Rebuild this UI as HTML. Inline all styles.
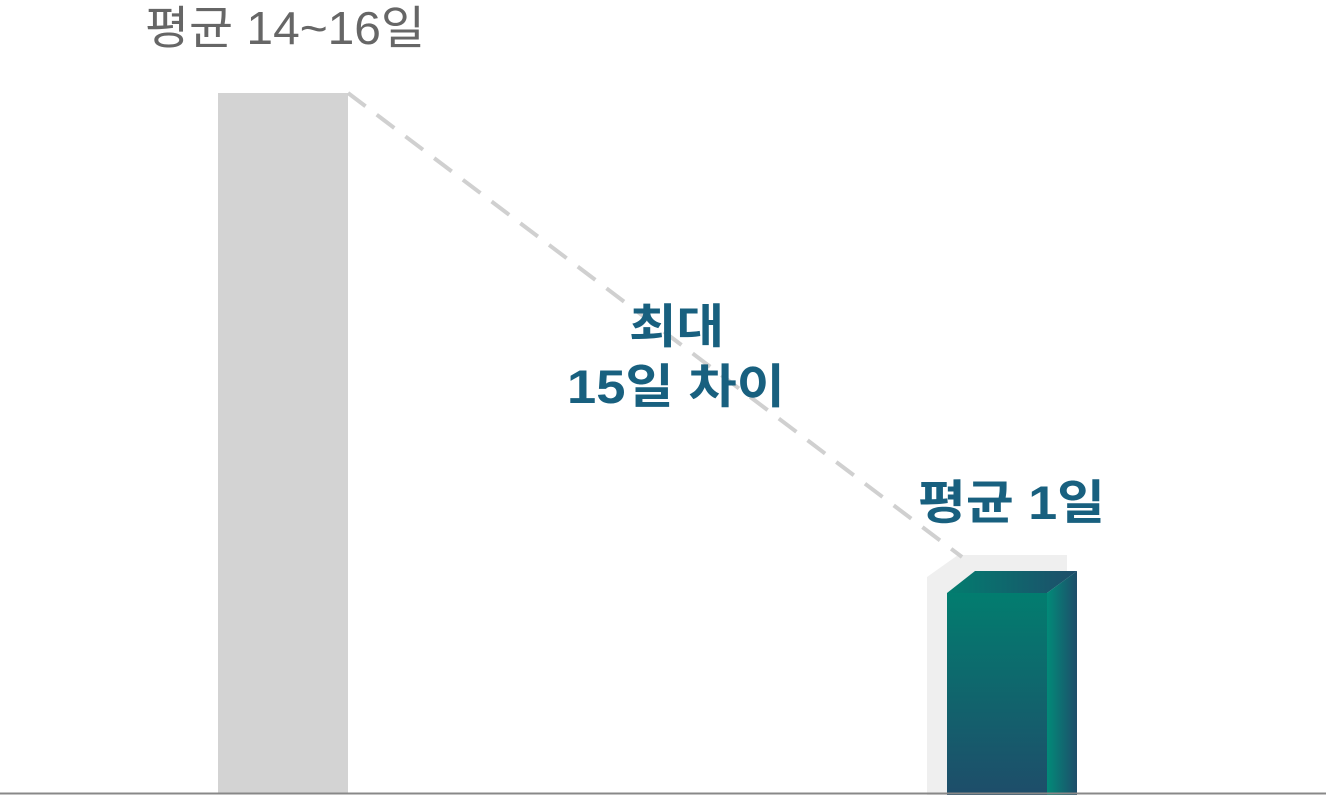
<html><body style="margin:0;width:1326px;height:795px;background:#fff;overflow:hidden;position:relative;font-family:'Liberation Sans','Noto Sans CJK KR',sans-serif">
<svg width="1326" height="795" style="position:absolute;left:0;top:0">
<defs>
<linearGradient id="f" x1="0" y1="0" x2="0" y2="1"><stop offset="0" stop-color="#027d6f"/><stop offset="1" stop-color="#1e4d6a"/></linearGradient>
<linearGradient id="t" x1="0" y1="0" x2="1" y2="0"><stop offset="0" stop-color="#027d6f"/><stop offset="1" stop-color="#1e4d6a"/></linearGradient>
<linearGradient id="r" x1="0" y1="0" x2="1" y2="0"><stop offset="0" stop-color="#028a78"/><stop offset="1" stop-color="#1e4d6a"/></linearGradient>
</defs>
<rect x="218" y="93" width="130" height="700" fill="#d3d3d3"/>
<polygon points="927,577 958,555 1067,555 1067,795 927,795" fill="#efefef"/>
<line x1="348" y1="93" x2="962" y2="557" stroke="#d0d0d0" stroke-width="4" stroke-dasharray="22,14"/>
<polygon points="947,593 975,571 1077,571 1047,593" fill="url(#t)"/>
<rect x="947" y="593" width="100" height="202" fill="url(#f)"/>
<polygon points="1047,593 1077,571 1077,795 1047,795" fill="url(#r)"/>
<line x1="0" y1="793.5" x2="1326" y2="793.5" stroke="#888" stroke-width="2"/>
<text x="145" y="44" font-size="46" fill="#666" textLength="280" lengthAdjust="spacingAndGlyphs">평균 14~16일</text>
<text x="629" y="343" font-size="47" font-weight="bold" fill="#18607f" textLength="95" lengthAdjust="spacingAndGlyphs">최대</text>
<text x="567" y="403" font-size="47" font-weight="bold" fill="#18607f" textLength="218" lengthAdjust="spacingAndGlyphs">15일 차이</text>
<text x="918" y="519" font-size="47" font-weight="bold" fill="#18607f" textLength="187" lengthAdjust="spacingAndGlyphs">평균 1일</text>
</svg>
</body></html>
